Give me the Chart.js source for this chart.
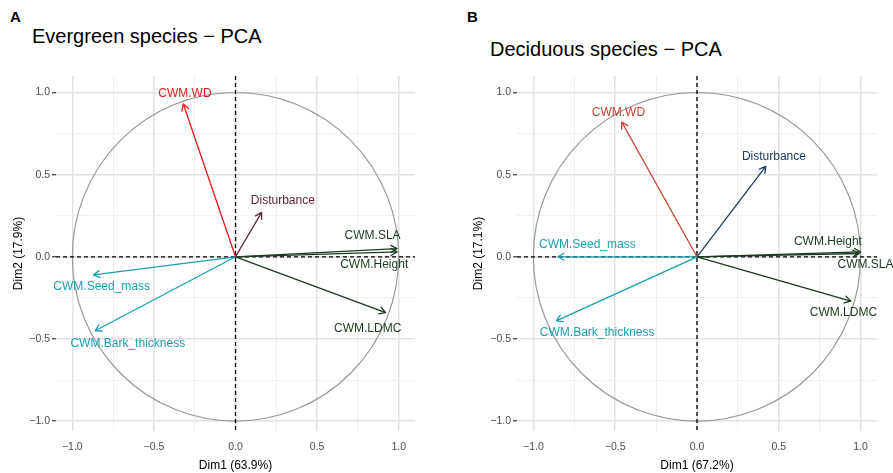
<!DOCTYPE html>
<html><head><meta charset="utf-8">
<script src="https://cdn.jsdelivr.net/npm/chart.js@4.4.1/dist/chart.umd.min.js"></script>
<style>
html,body{margin:0;padding:0;background:#fff;}
body{width:893px;height:473px;position:relative;overflow:hidden;font-family:"Liberation Sans",Arial,sans-serif;}
.letter{position:absolute;font-weight:bold;font-size:15px;line-height:15px;color:#000;}
.title{position:absolute;font-size:20px;line-height:20px;color:#000;white-space:nowrap;}
canvas{position:absolute;top:0;}
</style></head><body>
<div class="letter" style="left:10px;top:9px">A</div>
<div class="title" style="left:32px;top:26px">Evergreen species − PCA</div>
<div class="letter" style="left:467px;top:9px">B</div>
<div class="title" style="left:490px;top:39px">Deciduous species − PCA</div>
<canvas id="pcaA" width="446" height="473" style="left:0"></canvas>
<canvas id="pcaB" width="433" height="473" style="left:460px"></canvas>
<script>
// ---- data ----
const variables = ["CWM.WD", "Disturbance", "CWM.SLA", "CWM.Height", "CWM.Seed_mass", "CWM.Bark_thickness", "CWM.LDMC"];
const evergreenDim1 = [-0.32, 0.16, 0.99, 0.99, -0.87, -0.86, 0.92];
const evergreenDim2 = [0.93, 0.27, 0.05, 0.03, -0.11, -0.45, -0.34];
const deciduousDim1 = [-0.46, 0.42, 0.99, 1.00, -0.85, -0.86, 0.94];
const deciduousDim2 = [0.82, 0.55, 0.02, 0.03, 0.00, -0.39, -0.27];
const majorTicks = [-1, -0.5, 0, 0.5, 1];
const minorTicks = [-0.75, -0.25, 0.25, 0.75];
const evergreenAxisTitles = ["Dim1 (63.9%)", "Dim2 (17.9%)"];
const deciduousAxisTitles = ["Dim1 (67.2%)", "Dim2 (17.1%)"];

// ---- styles / layout ----
const FONT = '"Liberation Sans", Arial, sans-serif';
const TEAL = '#1a9fb0', GREEN = '#1c3a20';
const panelA = {
  colors: ['#e41a1c', '#5e2436', GREEN, GREEN, TEAL, TEAL, GREEN],
  labelAt: [[-0.31, 0.99], [0.29, 0.34], [0.84, 0.13], [0.85, -0.05], [-0.82, -0.18], [-0.66, -0.53], [0.81, -0.44]],
  yScaleWidth: 56, rightPad: 31
};
const panelB = {
  colors: ['#c8402c', '#1d3d66', GREEN, GREEN, TEAL, TEAL, GREEN],
  labelAt: [[-0.48, 0.875], [0.47, 0.61], [1.03, -0.05], [0.80, 0.09], [-0.67, 0.076], [-0.61, -0.46], [0.895, -0.34]],
  yScaleWidth: 57, rightPad: 16
};
const xRange = [-1.1, 1.1], yRange = [-1.06, 1.1];

const fmt = v => (v < 0 ? '\u2212' : '') + Math.abs(v).toFixed(1);
const isMajor = v => majorTicks.some(m => Math.abs(m - v) < 1e-9);
const allTicks = majorTicks.concat(minorTicks).sort((a, b) => a - b);

function decorPlugin(panel) {
  return {
    id: 'pcaDecor',
    beforeDatasetsDraw(chart) {
      const {ctx, chartArea: a, scales: {x, y}} = chart;
      const cx = x.getPixelForValue(0), cy = y.getPixelForValue(0);
      const rx = x.getPixelForValue(1) - cx, ry = cy - y.getPixelForValue(1);
      ctx.save();
      ctx.strokeStyle = '#959595'; ctx.lineWidth = 1.1;
      ctx.beginPath(); ctx.ellipse(cx, cy, rx, ry, 0, 0, Math.PI * 2); ctx.stroke();
      ctx.strokeStyle = '#000'; ctx.lineWidth = 1.3; ctx.setLineDash([4, 3]);
      ctx.beginPath();
      ctx.moveTo(a.left, cy); ctx.lineTo(a.right, cy);
      ctx.moveTo(cx, a.top); ctx.lineTo(cx, a.bottom);
      ctx.stroke();
      ctx.restore();
    },
    afterDatasetsDraw(chart) {
      const {ctx, scales: {x, y}} = chart;
      chart.data.datasets.forEach((ds, i) => {
        const meta = chart.getDatasetMeta(i);
        const p0 = meta.data[0], p1 = meta.data[1];
        const ang = Math.atan2(p1.y - p0.y, p1.x - p0.x);
        const L = 7, A = Math.PI / 6;
        ctx.save();
        ctx.strokeStyle = ds.borderColor; ctx.lineWidth = ds.borderWidth;
        ctx.lineCap = 'round'; ctx.lineJoin = 'round';
        ctx.beginPath();
        ctx.moveTo(p1.x - L * Math.cos(ang - A), p1.y - L * Math.sin(ang - A));
        ctx.lineTo(p1.x, p1.y);
        ctx.lineTo(p1.x - L * Math.cos(ang + A), p1.y - L * Math.sin(ang + A));
        ctx.stroke();
        const [lx, ly] = panel.labelAt[i];
        ctx.fillStyle = ds.borderColor;
        ctx.font = '12px ' + FONT;
        ctx.textAlign = 'center'; ctx.textBaseline = 'middle';
        ctx.fillText(ds.label, x.getPixelForValue(lx), y.getPixelForValue(ly));
        ctx.restore();
      });
    }
  };
}

function axis(isY, title, panel) {
  const r = isY ? yRange : xRange;
  return {
    type: 'linear', min: r[0], max: r[1],
    afterBuildTicks: s => { s.ticks = allTicks.map(v => ({value: v})); },
    afterFit: s => { if (isY) s.width = panel.yScaleWidth; else s.height = 42; },
    grid: {
      drawTicks: true, tickLength: 4,
      color: c => isMajor(c.tick.value) ? '#e2e2e2' : '#eeeeee',
      lineWidth: c => isMajor(c.tick.value) ? 1.5 : 0.9,
      tickColor: c => (isY && isMajor(c.tick.value)) ? '#333333' : 'rgba(0,0,0,0)',
      tickWidth: 1.2
    },
    border: {display: false},
    ticks: {
      autoSkip: false, maxRotation: 0, padding: isY ? 2 : 6,
      color: '#4d4d4d', font: {family: FONT, size: 10.5},
      callback: v => isMajor(v) ? fmt(v) : ''
    },
    title: {
      display: true, text: title, color: '#000',
      font: {family: FONT, size: 12},
      padding: isY ? {top: 11, bottom: 0} : {top: 0, bottom: 0}
    }
  };
}

function makeChart(id, dim1, dim2, titles, panel) {
  const datasets = variables.map((name, i) => ({
    label: name,
    data: [{x: 0, y: 0}, {x: dim1[i], y: dim2[i]}],
    showLine: true, borderColor: panel.colors[i], backgroundColor: panel.colors[i],
    borderWidth: 1.3, pointRadius: 0, pointHoverRadius: 0
  }));
  new Chart(document.getElementById(id), {
    type: 'scatter',
    data: {datasets},
    options: {
      responsive: false, maintainAspectRatio: false, animation: false,
      layout: {padding: {top: 76, right: panel.rightPad, left: 0, bottom: 0}},
      plugins: {legend: {display: false}, tooltip: {enabled: false}},
      scales: {x: axis(false, titles[0], panel), y: axis(true, titles[1], panel)}
    },
    plugins: [decorPlugin(panel)]
  });
}

makeChart('pcaA', evergreenDim1, evergreenDim2, evergreenAxisTitles, panelA);
makeChart('pcaB', deciduousDim1, deciduousDim2, deciduousAxisTitles, panelB);
</script>
</body></html>
